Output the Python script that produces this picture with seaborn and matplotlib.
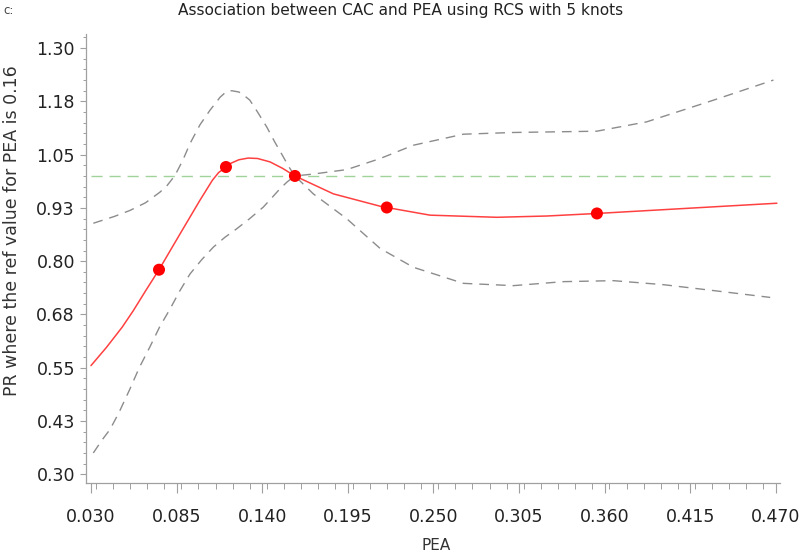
import numpy as np
import pandas as pd
import seaborn as sns
import matplotlib.pyplot as plt
from matplotlib.ticker import MultipleLocator, FixedLocator

# --- values ---
pea_fit = [0.030, 0.040, 0.050, 0.0572, 0.065, 0.0737, 0.0872, 0.100, 0.108, 0.112,
           0.1167, 0.120, 0.125, 0.131, 0.137, 0.145, 0.153, 0.161, 0.1857, 0.2157,
           0.220, 0.2478, 0.2907, 0.3228, 0.355, 0.408, 0.4706]
pr_fit = [0.555, 0.598, 0.645, 0.684, 0.730, 0.780, 0.864, 0.943, 0.990, 1.008,
          1.021, 1.030, 1.038, 1.042, 1.041, 1.033, 1.018, 1.000, 0.958, 0.929,
          0.926, 0.908, 0.903, 0.906, 0.912, 0.923, 0.936]

pea_upper = [0.0315, 0.045, 0.055, 0.065, 0.0743, 0.079, 0.084, 0.089, 0.0936, 0.100,
             0.1065, 0.113, 0.117, 0.1204, 0.125, 0.128, 0.132, 0.137, 0.1429, 0.148,
             0.1535, 0.157, 0.161, 0.1728, 0.1943, 0.2157, 0.2371, 0.2692, 0.3013, 0.3549,
             0.387, 0.430, 0.4684]
pr_upper = [0.889, 0.905, 0.919, 0.937, 0.962, 0.978, 1.0015, 1.037, 1.076, 1.120,
            1.1545, 1.185, 1.198, 1.200, 1.197, 1.190, 1.178, 1.150, 1.115, 1.080,
            1.045, 1.022, 1.000, 1.0045, 1.0149, 1.0408, 1.0721, 1.098, 1.102, 1.105,
            1.127, 1.178, 1.225]

pea_lower = [0.0315, 0.037, 0.0422, 0.048, 0.055, 0.061, 0.068, 0.074, 0.0808, 0.087,
             0.0936, 0.101, 0.1086, 0.116, 0.1236, 0.132, 0.1407, 0.146, 0.1514, 0.156,
             0.161, 0.1728, 0.1943, 0.2157, 0.2371, 0.2692, 0.3013, 0.3335, 0.3656, 0.3977,
             0.430, 0.4663]
pr_lower = [0.350, 0.380, 0.405, 0.445, 0.500, 0.550, 0.600, 0.645, 0.688, 0.730,
            0.770, 0.803, 0.833, 0.856, 0.876, 0.900, 0.927, 0.948, 0.970, 0.986,
            1.000, 0.958, 0.8996, 0.830, 0.7857, 0.748, 0.7426, 0.752, 0.7543, 0.7449,
            0.731, 0.715]

knots_pea = [0.0737, 0.1167, 0.161, 0.220, 0.355]
knots_pr = [0.780, 1.021, 1.000, 0.926, 0.912]

ref_pea = [0.030, 0.470]
ref_pr = [1.0, 1.0]

x_ticks = [0.030, 0.085, 0.140, 0.195, 0.250, 0.305, 0.360, 0.415, 0.470]
x_labels = ['0.030', '0.085', '0.140', '0.195', '0.250', '0.305', '0.360', '0.415', '0.470']
y_ticks = [0.30, 0.425, 0.55, 0.675, 0.80, 0.925, 1.05, 1.175, 1.30]
y_labels = ['0.30', '0.43', '0.55', '0.68', '0.80', '0.93', '1.05', '1.18', '1.30']

sns.set_style('white')
plt.rcParams['font.family'] = ['DejaVu Sans']

fig = plt.figure(figsize=(8, 5.58), dpi=100)
ax = fig.add_axes([0.1075, 0.134, 0.8675, 0.805])

grey = '#8c8c8c'
sns.lineplot(x=pea_upper, y=pr_upper, ax=ax, sort=False, estimator=None,
             color=grey, linewidth=1.0, linestyle=(0, (7, 5)))
sns.lineplot(x=pea_lower, y=pr_lower, ax=ax, sort=False, estimator=None,
             color=grey, linewidth=1.0, linestyle=(0, (7, 5)))
sns.lineplot(x=ref_pea, y=ref_pr, ax=ax, sort=False, estimator=None,
             color='#9fd39a', linewidth=1.0, linestyle=(0, (8, 5)))
sns.lineplot(x=pea_fit, y=pr_fit, ax=ax, sort=False, estimator=None,
             color='#ff4040', linewidth=1.1)
sns.scatterplot(x=knots_pea, y=knots_pr, ax=ax, color='#ff0000', s=75,
                edgecolor='none', zorder=5)

ax.set_xlim(0.0268, 0.4726)
ax.set_ylim(0.279, 1.333)

ax.xaxis.set_major_locator(FixedLocator(x_ticks))
ax.set_xticklabels(x_labels)
ax.xaxis.set_minor_locator(MultipleLocator(0.011))
ax.yaxis.set_major_locator(FixedLocator(y_ticks))
ax.set_yticklabels(y_labels)
ax.yaxis.set_minor_locator(MultipleLocator(0.025))

for side in ['top', 'right']:
    ax.spines[side].set_visible(False)
for side in ['left', 'bottom']:
    ax.spines[side].set_color('#a0a0a0')
    ax.spines[side].set_linewidth(0.9)

ax.tick_params(axis='x', which='major', direction='out', length=7, width=0.8,
               color='#a0a0a0', labelsize=12.5, labelcolor='#222222', pad=10.5, bottom=True)
ax.tick_params(axis='x', which='minor', direction='out', length=4, width=0.7,
               color='#a0a0a0', bottom=True)
ax.tick_params(axis='y', which='major', direction='out', length=4, width=0.8,
               color='#a0a0a0', labelsize=12.5, labelcolor='#222222', pad=4, left=True)
ax.tick_params(axis='y', which='minor', direction='out', length=2.5, width=0.7,
               color='#a0a0a0', left=True)

ax.set_xlabel('PEA', fontsize=11, color='#333333')
ax.xaxis.set_label_coords(0.505, -0.122)
ax.set_ylabel('PR where the ref value for PEA is 0.16', fontsize=12.5, color='#333333')
ax.yaxis.set_label_coords(-0.093, 0.563)

fig.text(0.501, 0.982, 'Association between CAC and PEA using RCS with 5 knots',
         ha='center', va='center', fontsize=11.1, color='#222222')
fig.text(0.004, 0.982, 'c:', ha='left', va='center', fontsize=8.5, color='#444444')

fig.savefig('out.png', dpi=100)
